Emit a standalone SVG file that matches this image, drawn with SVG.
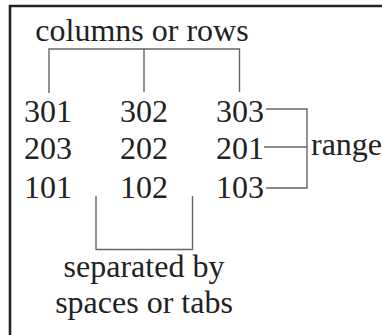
<svg xmlns="http://www.w3.org/2000/svg" width="382" height="335" viewBox="0 0 382 335">
<style>
.t{font-family:'Liberation Serif','Times New Roman',Times,serif;font-size:32px;fill:#222}
.c{fill:none;stroke:#666;stroke-width:1.4}
.b{fill:none;stroke:#222;stroke-width:2.6}
</style>
<rect width="382" height="335" fill="#fff"/>
<path class="b" d="M10,335 V6 H382"/>
<g class="t" font-family="Liberation Serif, serif">
<g id="label-columns"><text x="142" y="41" text-anchor="middle">columns or rows</text></g>
<g id="n301"><text x="24" y="122">301</text></g>
<g id="n302"><text x="120" y="122">302</text></g>
<g id="n303"><text x="216" y="122">303</text></g>
<g id="n203"><text x="24" y="159">203</text></g>
<g id="n202"><text x="120" y="159">202</text></g>
<g id="n201"><text x="216" y="159">201</text></g>
<g id="n101"><text x="24" y="198">101</text></g>
<g id="n102"><text x="120" y="198">102</text></g>
<g id="n103"><text x="216" y="198">103</text></g>
<g id="label-range"><text x="311" y="155">range</text></g>
<g id="label-separated"><text x="144" y="277" text-anchor="middle">separated by</text><text x="144" y="313" text-anchor="middle">spaces or tabs</text></g>
</g>
<g id="connectors">
<path class="c" d="M49,93 V49 H239.5 V92 M144,49 V92"/>
<path class="c" d="M266,109 H307 V188 H266 M264,147 H307"/>
<path class="c" d="M96,196 V249.5 H192.5 V196"/>
</g>
</svg>
